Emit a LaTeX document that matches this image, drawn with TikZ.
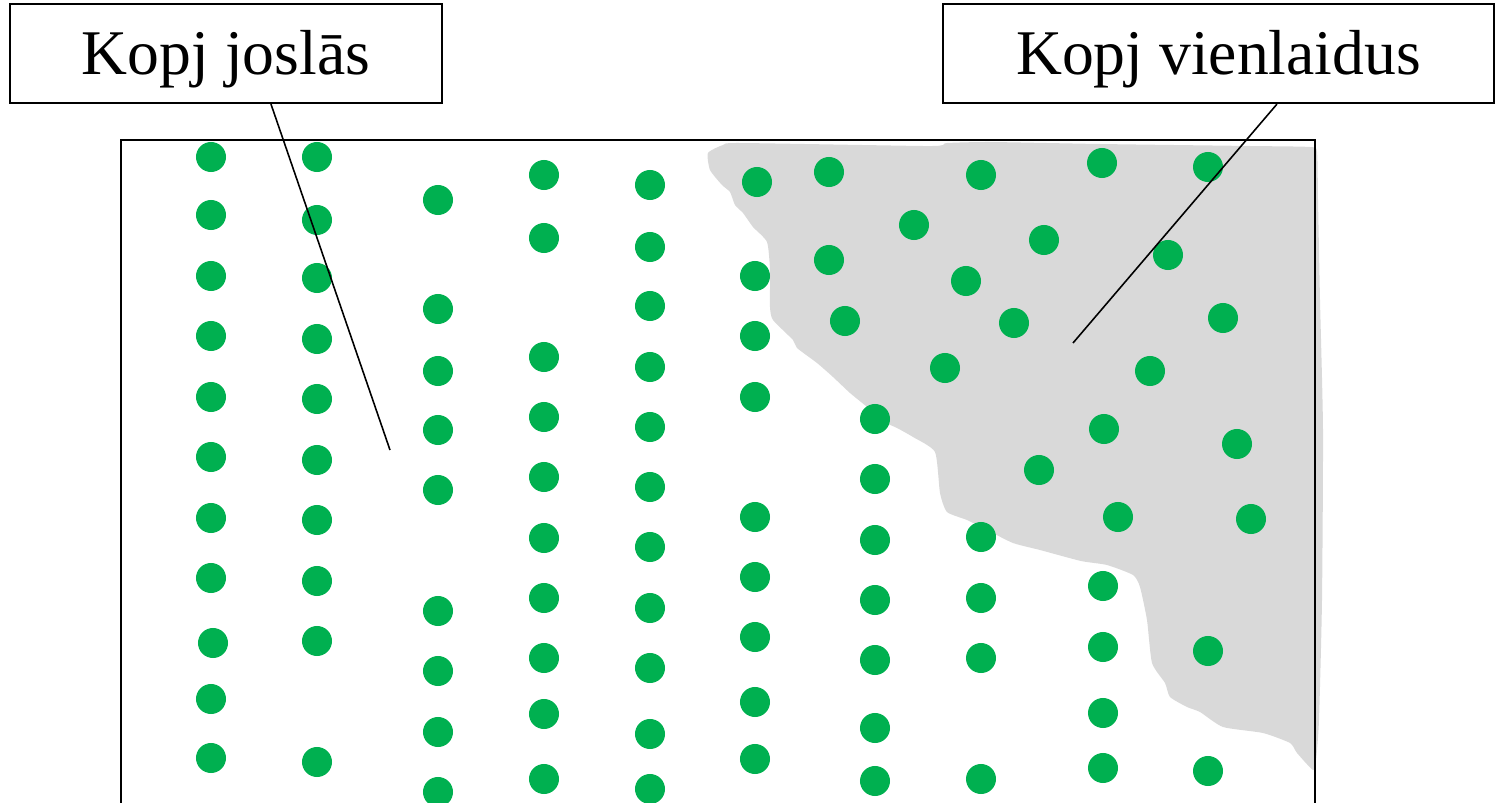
\documentclass[tikz,border=0pt]{standalone}
\usepackage{fontspec}
\setmainfont{Liberation Serif}
\definecolor{treegreen}{HTML}{00B050}
\definecolor{cleargrey}{HTML}{D9D9D9}
\tikzset{
  labelbox/.style={draw, line width=0.6pt, inner sep=0pt, fill=white,
    font=\fontsize{18.1}{20}\selectfont, text height=12.2pt, text depth=0pt,
    minimum height=0.99cm},
  leader/.style={line width=0.45pt},
  tree/.style={fill=treegreen}
}

\begin{document}
\begin{tikzpicture}[x=0.01cm, y=-0.01cm]
\useasboundingbox (0,0) rectangle (1496,803);
\clip (0,0) rectangle (1496,803);
% cleared area
\fill[cleargrey] plot[smooth cycle, tension=0.35] coordinates {
  (723,145) (740,143) (923,146) (943,145) (947,143) (990,142) (1100,144) (1250,146)
  (1310,147) (1317,152) (1318,200)
  (1320,300) (1323,430) (1322,600) (1319,720) (1316,760) (1313,770)
  (1297,753) (1290,743) (1263,733) (1223,727) (1200,712) (1187,707) (1170,697)
  (1165,683) (1152,663) (1147,620) (1140,587) (1133,575) (1107,565) (1081,561)
  (1040,550) (1013,543) (987,530) (967,520) (947,512) (940,493) (935,452)
  (913,437) (897,428) (880,420) (867,407) (850,393) (833,377) (817,363)
  (797,348) (793,340) (773,320) (770,307) (770,270) (767,242) (753,227)
  (743,213) (735,205) (730,192) (722,185) (710,170) (708,153)};
% field edge
\draw[line width=0.65pt] (121,830) -- (121,140) -- (1315,140) -- (1315,830);
% rows
\foreach \y in {157,215,276,336,397,457,518,578,699,758}
  \fill[tree] (211,\y) circle[radius=0.15cm];
\fill[tree] (213,643) circle[radius=0.15cm];
\foreach \y in {157,220,278,339,399,460,520,581,641,762}
  \fill[tree] (317,\y) circle[radius=0.15cm];
\foreach \y in {200,309,371,430,490,611,671,732,792}
  \fill[tree] (438,\y) circle[radius=0.15cm];
\foreach \y in {175,238,357,417,477,538,598,658,714,779}
  \fill[tree] (544,\y) circle[radius=0.15cm];
\foreach \y in {185,247,306,367,427,487,547,608,668,734,789}
  \fill[tree] (650,\y) circle[radius=0.15cm];
\foreach \y in {276,336,397,517,577,637,702,759}
  \fill[tree] (755,\y) circle[radius=0.15cm];
\fill[tree] (757,182) circle[radius=0.15cm];
\foreach \y in {419,479,540,600,660,728,781}
  \fill[tree] (875,\y) circle[radius=0.15cm];
\foreach \y in {537,598,658,779}
  \fill[tree] (981,\y) circle[radius=0.15cm];
\foreach \y in {586,647,713,768}
  \fill[tree] (1103,\y) circle[radius=0.15cm];
\foreach \y in {651,771}
  \fill[tree] (1208,\y) circle[radius=0.15cm];
% scattered
\foreach \x/\y in {829/172, 981/175, 1102/163, 1208/167, 914/225, 1044/240,
  1168/255, 829/260, 966/281, 845/321, 1014/323, 1223/318, 945/368, 1150/371,
  1104/429, 1237/444, 1039/470, 1118/517, 1251/519}
  \fill[tree] (\x,\y) circle[radius=0.15cm];
% labels
\node[labelbox, minimum width=4.32cm] (joslas) at (226,53.5) {Kopj joslās};
\node[labelbox, minimum width=5.51cm] (vienlaidus) at (1218.5,53.5) {Kopj vienlaidus};
\coordinate (joslasend) at (390,450);
\coordinate (vienlaidusend) at (1073,343);
\draw[leader] ([xshift=2.62cm]joslas.south west) -- (joslasend);
\draw[leader] ([xshift=3.35cm]vienlaidus.south west) -- (vienlaidusend);
\end{tikzpicture}
\end{document}
